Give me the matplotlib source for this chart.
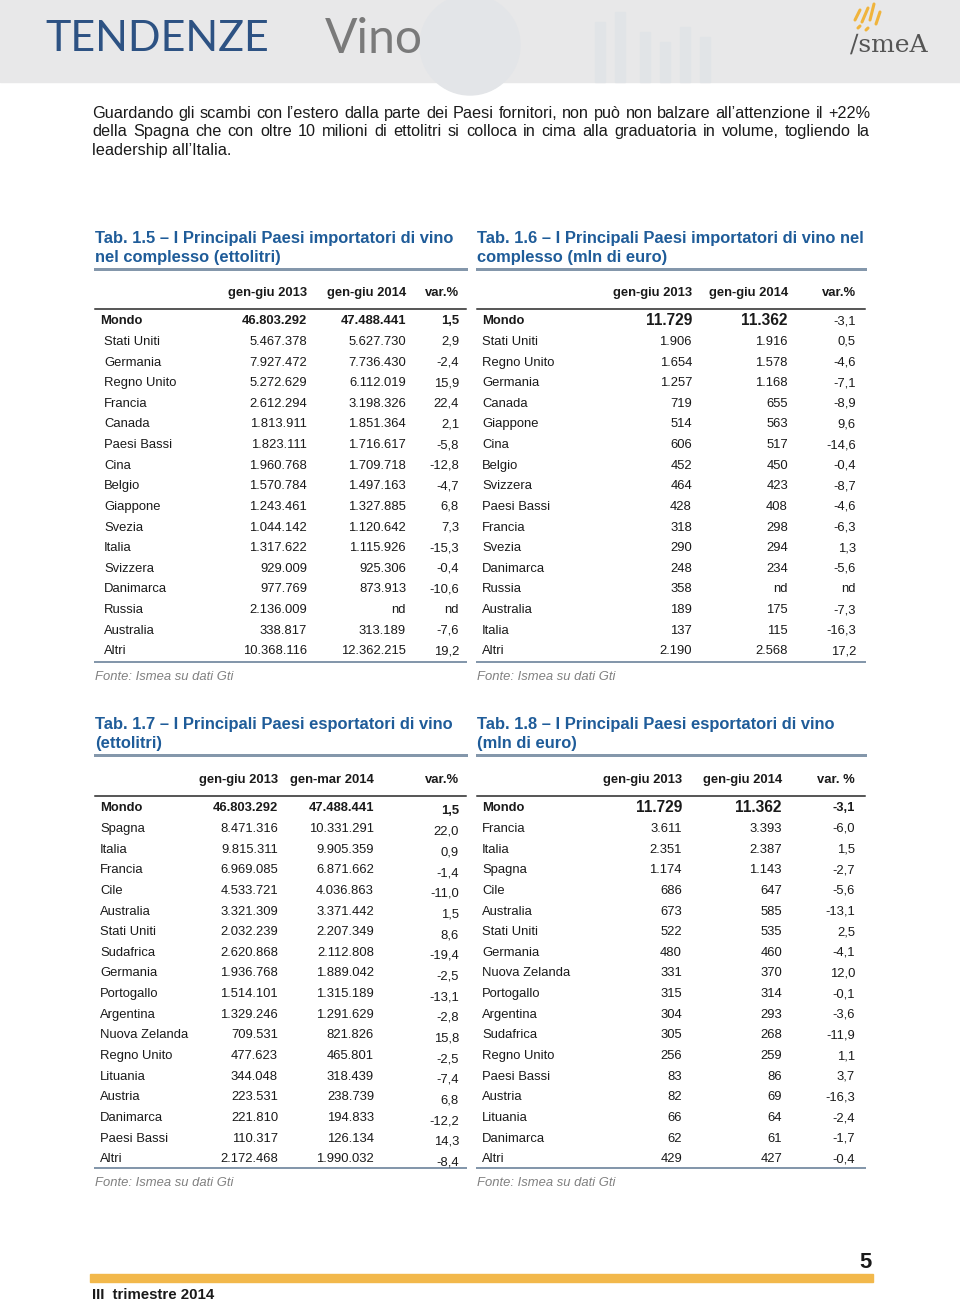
import matplotlib.pyplot as plt
from matplotlib.patches import Rectangle, Wedge

# ---- data ----
intro_lines = [
    "Guardando gli scambi con l\u2019estero dalla parte dei Paesi fornitori, non pu\u00f2 non balzare all\u2019attenzione il +22%",
    "della Spagna che con oltre 10 milioni di ettolitri si colloca in cima alla graduatoria in volume, togliendo la",
    "leadership all\u2019Italia.",
]

t15_title = ["Tab. 1.5 \u2013 I Principali Paesi importatori di vino", "nel complesso (ettolitri)"]
t15_head = ["gen-giu 2013", "gen-giu 2014", "var.%"]
t15_countries = ["Mondo", "Stati Uniti", "Germania", "Regno Unito", "Francia", "Canada",
                 "Paesi Bassi", "Cina", "Belgio", "Giappone", "Svezia", "Italia",
                 "Svizzera", "Danimarca", "Russia", "Australia", "Altri"]
t15_2013 = ["46.803.292", "5.467.378", "7.927.472", "5.272.629", "2.612.294", "1.813.911",
            "1.823.111", "1.960.768", "1.570.784", "1.243.461", "1.044.142", "1.317.622",
            "929.009", "977.769", "2.136.009", "338.817", "10.368.116"]
t15_2014 = ["47.488.441", "5.627.730", "7.736.430", "6.112.019", "3.198.326", "1.851.364",
            "1.716.617", "1.709.718", "1.497.163", "1.327.885", "1.120.642", "1.115.926",
            "925.306", "873.913", "nd", "313.189", "12.362.215"]
t15_var = ["1,5", "2,9", "-2,4", "15,9", "22,4", "2,1", "-5,8", "-12,8", "-4,7", "6,8",
           "7,3", "-15,3", "-0,4", "-10,6", "nd", "-7,6", "19,2"]

t16_title = ["Tab. 1.6 \u2013 I Principali Paesi importatori di vino nel", "complesso (mln di euro)"]
t16_head = ["gen-giu 2013", "gen-giu 2014", "var.%"]
t16_countries = ["Mondo", "Stati Uniti", "Regno Unito", "Germania", "Canada", "Giappone",
                 "Cina", "Belgio", "Svizzera", "Paesi Bassi", "Francia", "Svezia",
                 "Danimarca", "Russia", "Australia", "Italia", "Altri"]
t16_2013 = ["11.729", "1.906", "1.654", "1.257", "719", "514", "606", "452", "464", "428",
            "318", "290", "248", "358", "189", "137", "2.190"]
t16_2014 = ["11.362", "1.916", "1.578", "1.168", "655", "563", "517", "450", "423", "408",
            "298", "294", "234", "nd", "175", "115", "2.568"]
t16_var = ["-3,1", "0,5", "-4,6", "-7,1", "-8,9", "9,6", "-14,6", "-0,4", "-8,7", "-4,6",
           "-6,3", "1,3", "-5,6", "nd", "-7,3", "-16,3", "17,2"]

t17_title = ["Tab. 1.7 \u2013 I Principali Paesi esportatori di vino", "(ettolitri)"]
t17_head = ["gen-giu 2013", "gen-mar 2014", "var.%"]
t17_countries = ["Mondo", "Spagna", "Italia", "Francia", "Cile", "Australia", "Stati Uniti",
                 "Sudafrica", "Germania", "Portogallo", "Argentina", "Nuova Zelanda",
                 "Regno Unito", "Lituania", "Austria", "Danimarca", "Paesi Bassi", "Altri"]
t17_2013 = ["46.803.292", "8.471.316", "9.815.311", "6.969.085", "4.533.721", "3.321.309",
            "2.032.239", "2.620.868", "1.936.768", "1.514.101", "1.329.246", "709.531",
            "477.623", "344.048", "223.531", "221.810", "110.317", "2.172.468"]
t17_2014 = ["47.488.441", "10.331.291", "9.905.359", "6.871.662", "4.036.863", "3.371.442",
            "2.207.349", "2.112.808", "1.889.042", "1.315.189", "1.291.629", "821.826",
            "465.801", "318.439", "238.739", "194.833", "126.134", "1.990.032"]
t17_var = ["1,5", "22,0", "0,9", "-1,4", "-11,0", "1,5", "8,6", "-19,4", "-2,5", "-13,1",
           "-2,8", "15,8", "-2,5", "-7,4", "6,8", "-12,2", "14,3", "-8,4"]

t18_title = ["Tab. 1.8 \u2013 I Principali Paesi esportatori di vino", "(mln di euro)"]
t18_head = ["gen-giu 2013", "gen-giu 2014", "var. %"]
t18_countries = ["Mondo", "Francia", "Italia", "Spagna", "Cile", "Australia", "Stati Uniti",
                 "Germania", "Nuova Zelanda", "Portogallo", "Argentina", "Sudafrica",
                 "Regno Unito", "Paesi Bassi", "Austria", "Lituania", "Danimarca", "Altri"]
t18_2013 = ["11.729", "3.611", "2.351", "1.174", "686", "673", "522", "480", "331", "315",
            "304", "305", "256", "83", "82", "66", "62", "429"]
t18_2014 = ["11.362", "3.393", "2.387", "1.143", "647", "585", "535", "460", "370", "314",
            "293", "268", "259", "86", "69", "64", "61", "427"]
t18_var = ["-3,1", "-6,0", "1,5", "-2,7", "-5,6", "-13,1", "2,5", "-4,1", "12,0", "-0,1",
           "-3,6", "-11,9", "1,1", "3,7", "-16,3", "-2,4", "-1,7", "-0,4"]

source = "Fonte: Ismea su dati Gti"

# ---- page setup (axes in pixel units) ----
W, H = 960, 1302
PX = 72 / 100  # points per pixel

plt.rcParams['font.family'] = ['Liberation Sans', 'DejaVu Sans']
fig = plt.figure(figsize=(W / 100, H / 100), dpi=100)
ax = fig.add_axes([0, 0, 1, 1])
ax.set_xlim(0, W)
ax.set_ylim(H, 0)
ax.axis('off')

TITLE_BLUE = '#1f5c99'
RULE_BLUE = '#8497ab'
TXT = '#1a1a1a'


def fs(px):
    return px * PX


def put(x, y, s, px, **kw):
    # y is the visual centre of capitals; place on the baseline
    return ax.text(x, y + 0.33 * px, s, fontsize=fs(px), va='baseline', **kw)


# header band with faint chart motif
ax.add_patch(Rectangle((0, 0), W, 82, color='#e8e8e9', zorder=0))
ax.add_patch(Wedge((470, 45), 50, 0, 360, color='#e3e5e8', zorder=0.5))
for bx, bh in [(595, 60), (615, 70), (640, 50), (660, 40), (680, 55), (700, 45)]:
    ax.add_patch(Rectangle((bx, 82 - bh), 10, bh, color='#e1e4e7', zorder=0.5))
put(45, 37, "TENDENZE", 43, color='#2d5283', family='Lato', ha='left')
put(325, 37, "Vino", 48, color='#7a7a7a', family='Lato', ha='left')
put(889, 43, "\u2215smeA", 25, color='#555555', family='DejaVu Serif', ha='center')
for (xa, ya, xb, yb) in [(855, 20, 860, 10), (862, 22, 868, 8), (870, 20, 874, 4),
                         (876, 24, 880, 12), (858, 28, 860, 26), (866, 30, 868, 28)]:
    ax.plot([xa, xb], [ya, yb], color='#f0b43c', lw=2.2, solid_capstyle='round')

# intro paragraph, justified
renderer = fig.canvas.get_renderer()
x_left, x_right = 92, 870
for i, (line, y) in enumerate(zip(intro_lines, [113, 131, 150])):
    if i == len(intro_lines) - 1:
        put(x_left, y, line, 16.3, color=TXT)
        continue
    words = line.split()
    texts = [put(0, y, w, 16.3, color=TXT) for w in words]
    widths = [t.get_window_extent(renderer).width for t in texts]
    gap = (x_right - x_left - sum(widths)) / (len(words) - 1)
    x = x_left
    for t, w in zip(texts, widths):
        t.set_x(x)
        x += w + gap


def draw_table(x0, x1, y_title, title, head, head_right, col_right, countries, cols,
               y_head, y_head_rule, y_row0, step, y_bottom, label_x, indent=0,
               bold_mondo=(True, True, True), big_mondo=False, col_dy=(0, 0, 0)):
    for k, tl in enumerate(title):
        put(x0, y_title - 2 + 19 * k, tl, 16.5, color=TITLE_BLUE, fontweight='bold')
    ax.plot([x0, x1], [y_title + 29, y_title + 29], color=RULE_BLUE, lw=3 * PX)
    for h, hx in zip(head, head_right):
        put(hx, y_head, h, 13, color=TXT, fontweight='bold', ha='right')
    ax.plot([x0, x1], [y_head_rule, y_head_rule], color='#222222', lw=1.5 * PX)
    for r, name in enumerate(countries):
        y = y_row0 + r * step
        first = r == 0
        put(label_x + (0 if first else indent), y, name, 13, color=TXT,
            fontweight='bold' if first else 'normal')
        for c, (vals, cx) in enumerate(zip(cols, col_right)):
            size = 13
            weight = 'normal'
            if first and bold_mondo[c]:
                weight = 'bold'
                if big_mondo and c < 2:
                    size = 15.5
            put(cx, y + col_dy[c], vals[r], size, color=TXT, fontweight=weight, ha='right')
    ax.plot([x0, x1], [y_bottom, y_bottom], color=RULE_BLUE, lw=2 * PX)
    put(x0, y_bottom + 14, source, 13, color='#808080', style='italic')


draw_table(95, 466, 240, t15_title, t15_head, [307, 406, 459], [307, 406, 459],
           t15_countries, [t15_2013, t15_2014, t15_var],
           292, 309, 320, 20.625, 662, 100, indent=4)
draw_table(477, 865, 240, t16_title, t16_head, [692, 788, 856], [692, 788, 856],
           t16_countries, [t16_2013, t16_2014, t16_var],
           292, 309, 320, 20.625, 662, 482, bold_mondo=(True, True, False), big_mondo=True)
draw_table(95, 466, 726, t17_title, t17_head, [278, 374, 459], [278, 374, 459],
           t17_countries, [t17_2013, t17_2014, t17_var],
           779, 796, 807, 20.65, 1168, 100, col_dy=(0, 0, 3))
draw_table(477, 865, 726, t18_title, t18_head, [682, 782, 855], [682, 782, 855],
           t18_countries, [t18_2013, t18_2014, t18_var],
           779, 796, 807, 20.65, 1168, 482, big_mondo=True)

# footer
put(872, 1261, "5", 22, fontweight='bold', color=TXT, ha='right')
ax.add_patch(Rectangle((90, 1274), 783, 8, color='#f2b84b'))
put(92, 1294, "III  trimestre 2014", 15,
    family=['Liberation Sans Narrow', 'Liberation Sans'], fontweight='bold', color=TXT)

fig.savefig('out.png', dpi=100)
